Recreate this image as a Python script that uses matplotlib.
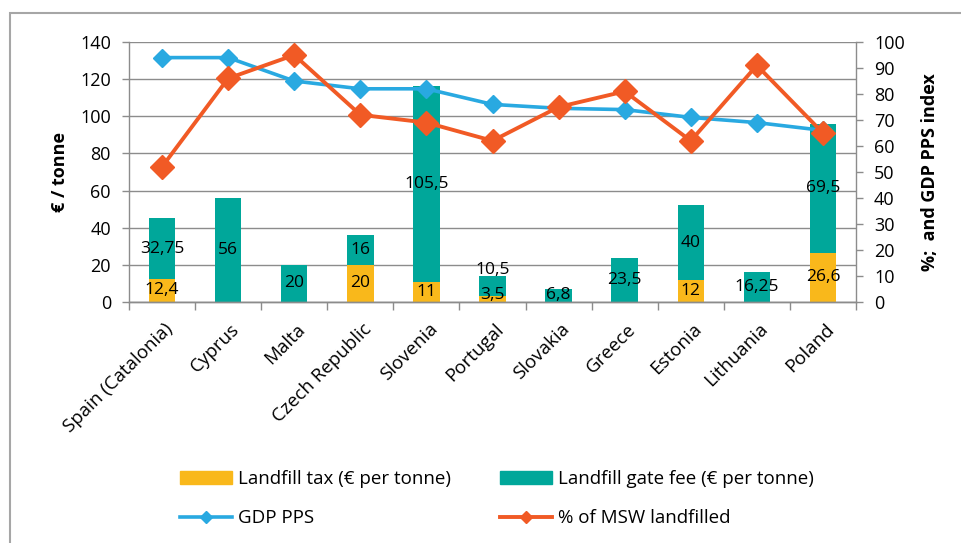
import matplotlib
matplotlib.use('Agg')
import matplotlib.pyplot as plt
import numpy as np
from matplotlib.patches import Rectangle, Patch
from matplotlib.lines import Line2D
import matplotlib.transforms as mtransforms

plt.rcParams['font.family'] = ['Open Sans', 'DejaVu Sans']

countries = ['Spain (Catalonia)', 'Cyprus', 'Malta', 'Czech Republic', 'Slovenia',
             'Portugal', 'Slovakia', 'Greece', 'Estonia', 'Lithuania', 'Poland']
landfill_tax = [12.4, 0, 0, 20, 11, 3.5, 0, 0, 12, 0, 26.6]
gate_fee = [32.75, 56, 20, 16, 105.5, 10.5, 6.8, 23.5, 40, 16.25, 69.5]
gdp_pps = [94, 94, 85, 82, 82, 76, 74.5, 74, 71, 69, 66]
msw_landfilled = [52, 86, 95, 72, 69, 62, 75, 81, 62, 91, 65]
tax_labels = ['12,4', '', '', '20', '11', '3,5', '', '', '12', '', '26,6']
fee_labels = ['32,75', '56', '20', '16', '105,5', '10,5', '6,8', '23,5', '40', '16,25', '69,5']
left_ticks = list(range(0, 141, 20))
right_ticks = list(range(0, 101, 10))

C_TAX = '#F9B81B'
C_FEE = '#00A79A'
C_GDP = '#29A9E1'
C_MSW = '#F15A25'
GRAY = '#8c8c8c'
FS_DATA = 12.5
FS_TICK = 13
FS_X = 13.5
FS_LEG = 13.5
FS_TITLE = 13

fig = plt.figure(figsize=(9.61, 5.43), dpi=100)
ax = fig.add_axes([129/961, 1-302/543, (856-129)/961, (302-42)/543])
ax2 = ax.twinx()

x = np.arange(len(countries))
w = 0.4
ax.bar(x, landfill_tax, w, color=C_TAX, zorder=2)
ax.bar(x, gate_fee, w, bottom=landfill_tax, color=C_FEE, zorder=2)

# data labels (centered in segments, nudged up when too small)
for i in range(len(countries)):
    prev = None
    if tax_labels[i]:
        y = max(landfill_tax[i] / 2, 4.0)
        ax.text(x[i], y, tax_labels[i], ha='center', va='center', fontsize=FS_DATA, zorder=3)
        prev = y
    yf = landfill_tax[i] + gate_fee[i] / 2
    if prev is not None:
        yf = max(yf, prev + 13)
    else:
        yf = max(yf, 4.0)
    ax.text(x[i], yf, fee_labels[i], ha='center', va='center', fontsize=FS_DATA, zorder=3)

ax2.plot(x, gdp_pps, color=C_GDP, lw=2.6, marker='D', ms=9, zorder=4)
ax2.plot(x, msw_landfilled, color=C_MSW, lw=2.8, marker='D', ms=12, zorder=5)

ax.set_xlim(-0.5, len(countries) - 0.5)
ax.set_ylim(0, 140)
ax2.set_ylim(0, 100)
ax.set_yticks(left_ticks)
ax2.set_yticks(right_ticks)
ax.grid(axis='y', color=GRAY, lw=1.0, zorder=0)
ax.set_axisbelow(True)

for a in (ax, ax2):
    a.spines['top'].set_visible(False)
    for s in ('left', 'right', 'bottom'):
        a.spines[s].set_color(GRAY)
        a.spines[s].set_linewidth(1.0)
ax2.spines['left'].set_visible(False)
ax.spines['right'].set_visible(False)

ax.tick_params(axis='y', length=5, width=1, color=GRAY, pad=8, labelsize=FS_TICK)
ax2.tick_params(axis='y', length=5, width=1, color=GRAY, pad=8, labelsize=FS_TICK)

ax.set_xticks(x)
ax.set_xticks(np.arange(-0.5, len(countries), 1), minor=True)
ax.tick_params(axis='x', which='major', length=0, pad=13)
ax.tick_params(axis='x', which='minor', length=6, width=1, color=GRAY)
offset = mtransforms.ScaledTranslation(2/100, 0, fig.dpi_scale_trans)
ax.set_xticklabels(countries, rotation=45, ha='right', rotation_mode='anchor',
                   fontsize=FS_X)
for lbl in ax.get_xticklabels():
    lbl.set_transform(lbl.get_transform() + offset)

fig.text(60/961, 1-172/543, '€ / tonne', rotation=90, ha='center', va='center',
         fontsize=FS_TITLE, fontweight='bold')
fig.text(930/961, 1-172/543, '%;  and GDP PPS index', rotation=90, ha='center',
         va='center', fontsize=FS_TITLE, fontweight='bold')

handles = [Patch(color=C_TAX), Line2D([], [], color=C_GDP, lw=2.6, marker='D', ms=6),
           Patch(color=C_FEE), Line2D([], [], color=C_MSW, lw=2.8, marker='D', ms=6)]
labels = ['Landfill tax (€ per tonne)', 'GDP PPS',
          'Landfill gate fee (€ per tonne)', '% of MSW landfilled']
fig.legend(handles, labels, ncol=2, loc='upper left', bbox_to_anchor=(180/961, 1-470/543),
           frameon=False, fontsize=FS_LEG, handlelength=2.77, handleheight=0.65,
           handletextpad=0.32, columnspacing=2.6, labelspacing=1.13, borderaxespad=0,
           borderpad=0)

fig.patches.append(Rectangle((10/961, -0.1), 1.2, 1 - 13/543 + 0.1, transform=fig.transFigure,
                             fill=False, edgecolor='#a6a6a6', lw=1.5))

fig.savefig('out.png', dpi=100)
